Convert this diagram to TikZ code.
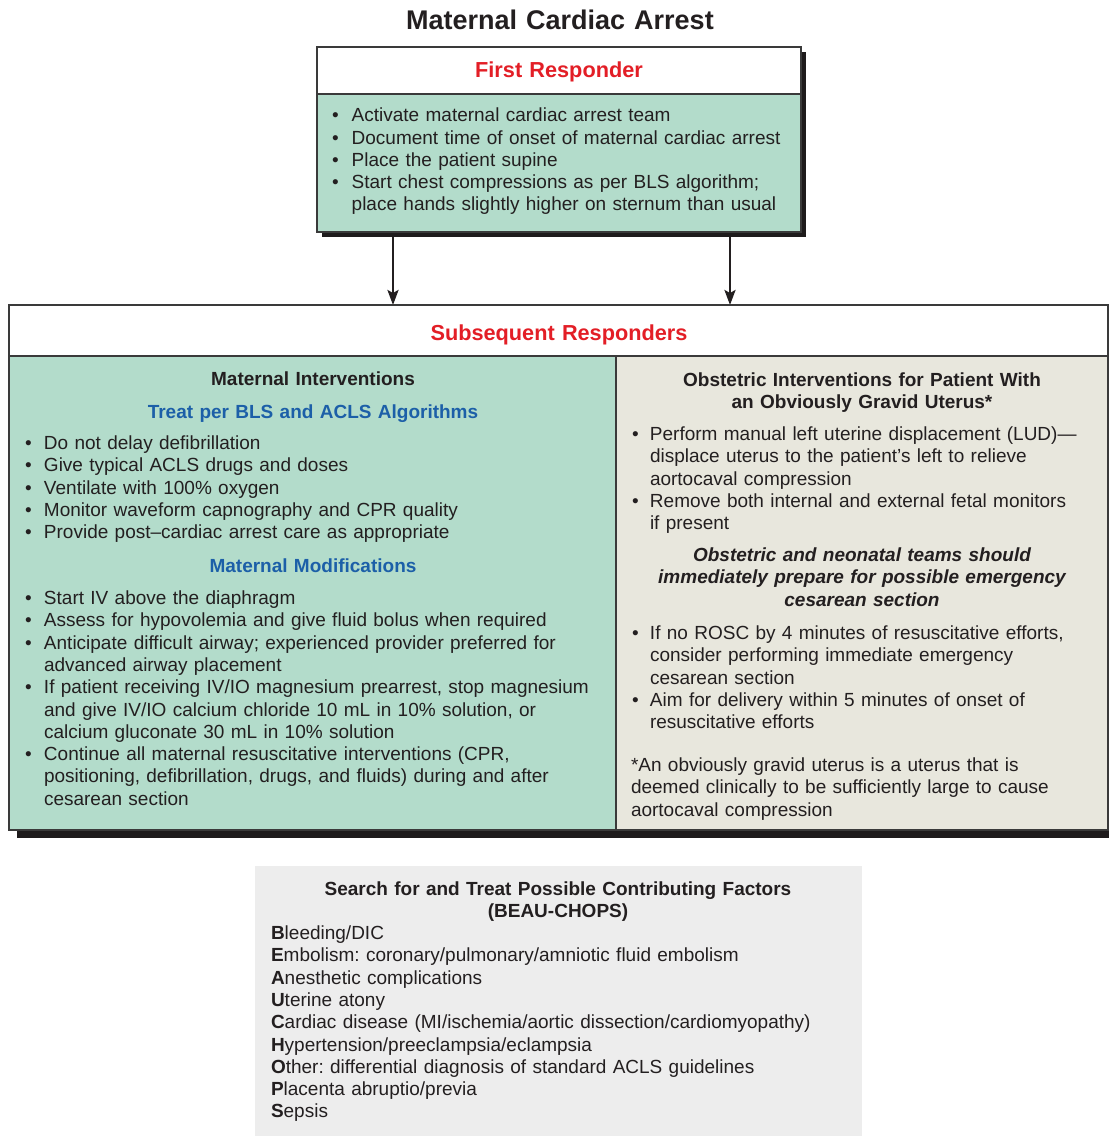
\documentclass[tikz,border=0pt]{standalone}
\usepackage{fontspec}
\setmainfont{Liberation Sans}
\usetikzlibrary{arrows.meta}
\definecolor{ink}{HTML}{231F20}
\definecolor{shad}{HTML}{1E1B1C}
\definecolor{edge}{HTML}{3A3A3A}
\definecolor{mint}{HTML}{B3DCCB}
\definecolor{sand}{HTML}{E8E7DD}
\definecolor{greybg}{HTML}{EDEDED}
\definecolor{redt}{HTML}{E31E26}
\definecolor{bluet}{HTML}{1C5FA8}
\frenchspacing
\newlength\bw
\newcommand{\bl}[1]{\hangindent=\bw\hangafter=1\noindent\makebox[\bw][l]{\textbullet}#1\par}
\newcommand{\bodyfnt}{\fontsize{19}{22.3}\selectfont}
\tikzset{
  panel/.style={draw=edge, line width=1.3pt, inner sep=0pt, outer sep=0pt, anchor=north west},
  txt/.style={inner sep=0pt, outer sep=0pt, anchor=base west, text=ink, font=\bodyfnt, align=left, text width=#1},
  txt/.default=480pt,
  ctr/.style={inner sep=0pt, outer sep=0pt, anchor=base, text=ink, align=center, text width=#1},
  ctr/.default=560pt,
  hd/.style={ctr, font=\bfseries\bodyfnt},
  bluehd/.style={ctr, font=\bfseries\bodyfnt, text=bluet},
  redhd/.style={ctr, font=\bfseries\fontsize{21.7}{26}\selectfont, text=redt},
  arr/.style={draw=ink, line width=2.6pt, -{Stealth[length=15pt,width=11pt,inset=3pt]}},
}
\begin{document}
\begin{tikzpicture}[x=1pt,y=-1pt]
\useasboundingbox (0,0) rectangle (1109,1136);

% title
\node[ctr, font=\bfseries\fontsize{27}{32}\selectfont] (title) at (560,29.5) {Maternal Cardiac Arrest};

% arrow helper coordinates
\coordinate (a1) at (393,0);
\coordinate (a2) at (730,0);

% boxes (geometry)
\node[panel, fill=white, minimum width=1099pt, minimum height=51pt] (srhead) at (9,305) {};
\node[panel, fill=white, minimum width=484pt, minimum height=47pt] (frhead) at (317,47) {};
\node[panel, fill=mint, minimum width=484pt, minimum height=138pt] (frbody) at (317,94) {};

\draw[arr] (frbody.south -| a1) -- (srhead.north -| a1);
\draw[arr] (frbody.south -| a2) -- (srhead.north -| a2);

% shadows
\fill[shad] (322,52) rectangle (806,237);
\fill[shad] (17,313) rectangle (1109,838);

% redraw boxes on top of shadows
\node[panel, fill=white, minimum width=484pt, minimum height=47pt] (frhead2) at (317,47) {};
\node[panel, fill=mint, minimum width=484pt, minimum height=138pt] (frbody2) at (317,94) {};
\node[panel, fill=white, minimum width=1099pt, minimum height=51pt] (srhead2) at (9,305) {};
\node[panel, fill=mint, minimum width=607pt, minimum height=474pt] (left) at (9,356) {};
\node[panel, fill=sand, minimum width=492pt, minimum height=474pt] (right) at (616,356) {};

% bottom grey box
\node[inner sep=0pt, outer sep=0pt, anchor=north west, fill=greybg, minimum width=607pt, minimum height=270pt] (bottom) at (255,866) {};

% First responder
\node[redhd] (frt) at (559,77) {First Responder};
\node[txt=460pt] (frl) at (332,121.7) {\setlength\bw{19.7pt}%
\bl{Activate maternal cardiac arrest team}%
\bl{Document time of onset of maternal cardiac arrest}%
\bl{Place the patient supine}%
\bl{Start chest compressions as per BLS algorithm;\newline place hands slightly higher on sternum than usual}};

% Subsequent responders
\node[redhd] (srt) at (559,340) {Subsequent Responders};

% left panel
\node[hd] (lmi) at (313,385) {Maternal Interventions};
\node[bluehd] (ltr) at (313,418) {Treat per BLS and ACLS Algorithms};
\node[txt=580pt] (ll1) at (25,449.5) {\setlength\bw{19pt}%
\bl{Do not delay defibrillation}%
\bl{Give typical ACLS drugs and doses}%
\bl{Ventilate with 100\% oxygen}%
\bl{Monitor waveform capnography and CPR quality}%
\bl{Provide post–cardiac arrest care as appropriate}};
\node[bluehd] (lmm) at (313,572) {Maternal Modifications};
\node[txt=580pt] (ll2) at (25,604.5) {\setlength\bw{19pt}%
\bl{Start IV above the diaphragm}%
\bl{Assess for hypovolemia and give fluid bolus when required}%
\bl{Anticipate difficult airway; experienced provider preferred for\newline advanced airway placement}%
\bl{If patient receiving IV/IO magnesium prearrest, stop magnesium\newline and give IV/IO calcium chloride 10 mL in 10\% solution, or\newline calcium gluconate 30 mL in 10\% solution}%
\bl{Continue all maternal resuscitative interventions (CPR,\newline positioning, defibrillation, drugs, and fluids) during and after\newline cesarean section}};

% right panel
\node[hd, text width=470pt] (roi) at (862,386) {Obstetric Interventions for Patient With\\ an Obviously Gravid Uterus*};
\node[txt=470pt] (rl1) at (632,440.5) {\setlength\bw{18pt}%
\bl{Perform manual left uterine displacement (LUD)—\newline displace uterus to the patient’s left to relieve\newline aortocaval compression}%
\bl{Remove both internal and external fetal monitors\newline if present}};
\node[ctr=470pt, font=\bfseries\itshape\bodyfnt] (rbi) at (862,561.5) {Obstetric and neonatal teams should\\ immediately prepare for possible emergency\\ cesarean section};
\node[txt=470pt] (rl2) at (632,639.5) {\setlength\bw{18pt}%
\bl{If no ROSC by 4 minutes of resuscitative efforts,\newline consider performing immediate emergency\newline cesarean section}%
\bl{Aim for delivery within 5 minutes of onset of\newline resuscitative efforts}};
\node[txt=470pt] (rfn) at (631,771.5) {*An obviously gravid uterus is a uterus that is\newline deemed clinically to be sufficiently large to cause\newline aortocaval compression};

% bottom box text
\node[hd] (bt) at (558,895) {Search for and Treat Possible Contributing Factors\\ (BEAU-CHOPS)};
\node[txt=580pt] (bl) at (271,939.5) {%
\textbf{B}leeding/DIC\newline
\textbf{E}mbolism: coronary/pulmonary/amniotic fluid embolism\newline
\textbf{A}nesthetic complications\newline
\textbf{U}terine atony\newline
\textbf{C}ardiac disease (MI/ischemia/aortic dissection/cardiomyopathy)\newline
\textbf{H}ypertension/preeclampsia/eclampsia\newline
\textbf{O}ther: differential diagnosis of standard ACLS guidelines\newline
\textbf{P}lacenta abruptio/previa\newline
\textbf{S}epsis};
\end{tikzpicture}
\end{document}
